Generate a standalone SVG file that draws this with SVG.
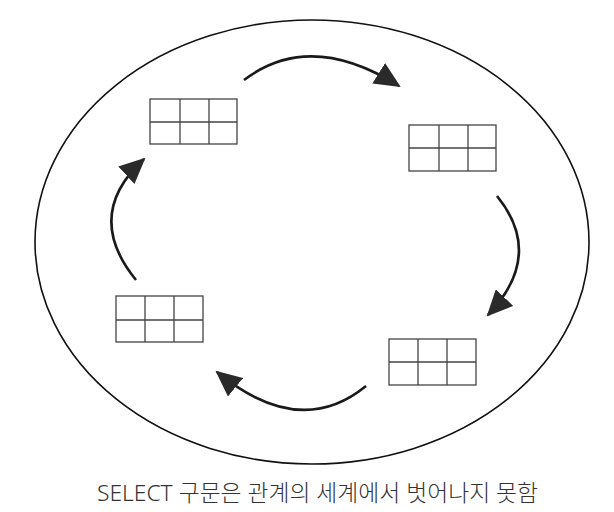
<svg xmlns="http://www.w3.org/2000/svg" width="614" height="512" viewBox="0 0 614 512">
<style>
.tbl{fill:#fff;stroke:#444;stroke-width:1.3}
.arc{fill:none;stroke:#1a1a1a;stroke-width:2.6}
.cap{font-family:"Noto Sans","Noto Sans CJK KR",sans-serif;font-size:22.5px;font-weight:300;fill:#333}
</style>
<defs>
<marker id="ah" markerUnits="userSpaceOnUse" markerWidth="26" markerHeight="24" viewBox="0 0 26 24" refX="24" refY="12" orient="auto">
<path d="M0,0 L26,12 L0,24 z" fill="#2a2a2a"/>
</marker>
</defs>
<rect width="614" height="512" fill="#fff"/>
<ellipse id="world" cx="312" cy="242" rx="277" ry="222" fill="none" stroke="#111" stroke-width="1.6"/>
<g id="table1"><rect class="tbl" x="150" y="99" width="87" height="45"/><path class="tbl" d="M180,99V144M209,99V144M150,122H237"/></g>
<g id="table2"><rect class="tbl" x="409" y="125" width="87" height="46"/><path class="tbl" d="M439,125V171M468,125V171M409,148H496"/></g>
<g id="table3"><rect class="tbl" x="116" y="296" width="87" height="46"/><path class="tbl" d="M145,296V342M174,296V342M116,320H203"/></g>
<g id="table4"><rect class="tbl" x="389" y="339" width="87" height="46"/><path class="tbl" d="M418,339V385M447,339V385M389,362H476"/></g>
<g id="connectors">
<path class="arc" d="M244,80 Q310,30 399,86" marker-end="url(#ah)"/>
<path class="arc" d="M497,196 Q545,255 488,315" marker-end="url(#ah)"/>
<path class="arc" d="M366,386 Q300,440 217,372" marker-end="url(#ah)"/>
<path class="arc" d="M136,280 Q83,215 144,159" marker-end="url(#ah)"/>
</g>
<text class="cap" x="97" y="501" textLength="441" lengthAdjust="spacingAndGlyphs">SELECT 구문은 관계의 세계에서 벗어나지 못함</text>
</svg>
